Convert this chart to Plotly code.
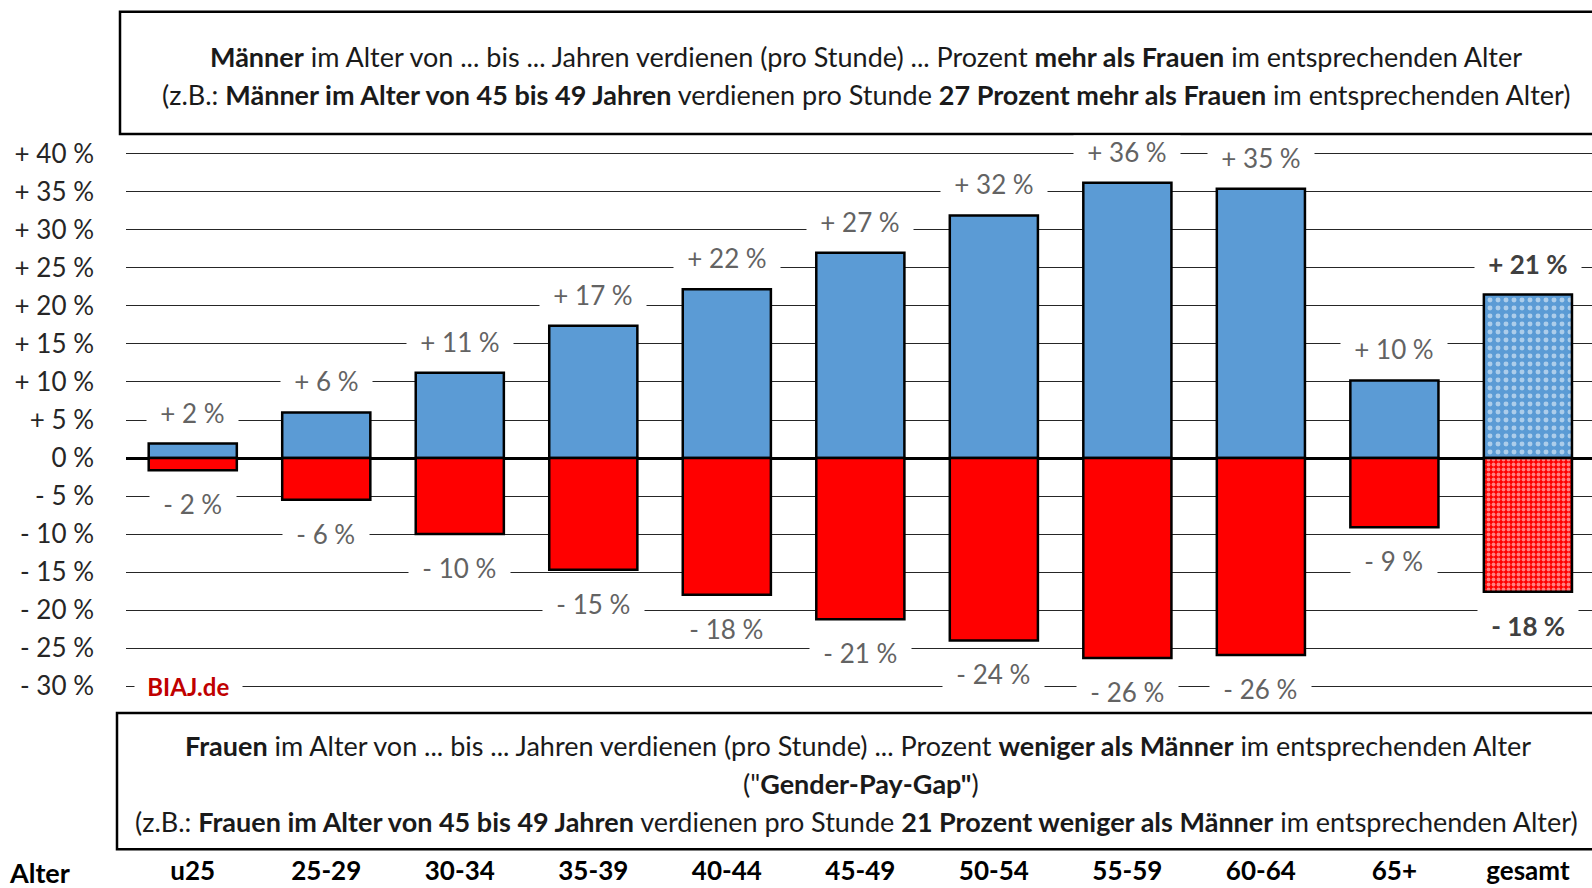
import plotly.graph_objects as go

categories = ["u25", "25-29", "30-34", "35-39", "40-44", "45-49", "50-54", "55-59", "60-64", "65+", "gesamt"]
men_more = [1.9, 6.0, 11.2, 17.4, 22.2, 27.0, 31.9, 36.2, 35.4, 10.2, 21.5]
women_less = [-1.6, -5.5, -10.0, -14.7, -18.0, -21.2, -24.0, -26.3, -25.9, -9.1, -17.6]
men_labels = ["+ 2 %", "+ 6 %", "+ 11 %", "+ 17 %", "+ 22 %", "+ 27 %", "+ 32 %", "+ 36 %", "+ 35 %", "+ 10 %", "+ 21 %"]
women_labels = ["- 2 %", "- 6 %", "- 10 %", "- 15 %", "- 18 %", "- 21 %", "- 24 %", "- 26 %", "- 26 %", "- 9 %", "- 18 %"]
y_ticks = [40, 35, 30, 25, 20, 15, 10, 5, 0, -5, -10, -15, -20, -25, -30]
y_ticktext = ["+ 40 %", "+ 35 %", "+ 30 %", "+ 25 %", "+ 20 %", "+ 15 %", "+ 10 %", "+ 5 %", "0 %",
              "- 5 %", "- 10 %", "- 15 %", "- 20 %", "- 25 %", "- 30 %"]

FONT = "Lato"
FS = 26
FS_BOX = 27
BLUE = "#5B9BD5"
RED = "#FF0000"

W, H = 1592, 888
L, R, T, B = 126, 0, 154, 202
PH = H - T - B
PW = W - L - R
YMIN, YMAX = -30.25, 40.25
# keep -30..40 at the intended pixel rows
unit = PH / (40 - (-30))
T2 = T - (YMAX - 40) * unit
B2 = B - (-30 - YMIN) * unit
PH2 = H - T2 - B2


def px(x):
    return (x - L) / PW


def py(y):
    return (H - B2 - y) / PH2


n = len(categories)
last = n - 1
blue_shapes = ["" if i < last else "." for i in range(n)]
red_shapes = ["" if i < last else "." for i in range(n)]

fig = go.Figure()
fig.add_trace(go.Bar(
    x=categories, y=men_more, name="Männer",
    marker=dict(color=BLUE, line=dict(color="black", width=2.5),
                pattern=dict(shape=blue_shapes, fgcolor="white", size=8, solidity=0.3, fillmode="overlay")),
    hoverinfo="skip",
))
fig.add_trace(go.Bar(
    x=categories, y=women_less, name="Frauen",
    marker=dict(color=RED, line=dict(color="black", width=2.5),
                pattern=dict(shape=red_shapes, fgcolor="white", size=5, solidity=0.45, fillmode="overlay")),
    hoverinfo="skip",
))

annotations = []
nb = "\u00a0\u00a0"
for i, c in enumerate(categories):
    bold = i == last
    col = "#404040" if bold else "#636363"
    for val, lab, shift in ((men_more[i], men_labels[i], 31), (women_less[i], women_labels[i], -34)):
        t = f"<b>{lab}</b>" if bold else lab
        annotations.append(dict(
            x=c, y=val, xref="x", yref="y", text=nb + t + nb, showarrow=False,
            xanchor="center", yanchor="middle", yshift=shift,
            font=dict(family=FONT, size=FS, color=col), bgcolor="white", borderpad=0,
        ))

text_col = "#1a1a1a"
top_lines = [
    ("<b>Männer</b> im Alter von ... bis ... Jahren verdienen (pro Stunde) ... Prozent <b>mehr als Frauen</b> im entsprechenden Alter", 866, 57),
    ("(z.B.: <b>Männer im Alter von 45 bis 49 Jahren</b> verdienen pro Stunde <b>27 Prozent mehr als Frauen</b> im entsprechenden Alter)", 866, 95),
]
bottom_lines = [
    ("<b>Frauen</b> im Alter von ... bis ... Jahren verdienen (pro Stunde) ... Prozent <b>weniger als Männer</b> im entsprechenden Alter", 858, 745),
    ("(\"<b>Gender-Pay-Gap\"</b>)", 861, 783),
    ("(z.B.: <b>Frauen im Alter von 45 bis 49 Jahren</b> verdienen pro Stunde <b>21 Prozent weniger als Männer</b> im entsprechenden Alter)", 856, 821),
]
for txt, x, y in top_lines + bottom_lines:
    annotations.append(dict(
        x=px(x), y=py(y), xref="paper", yref="paper", text=txt, showarrow=False,
        xanchor="center", yanchor="middle", font=dict(family=FONT, size=FS_BOX, color=text_col),
    ))

annotations.append(dict(
    x=px(39), y=py(872), xref="paper", yref="paper", text="<b>Alter</b>", showarrow=False,
    xanchor="center", yanchor="middle", font=dict(family=FONT, size=27, color="black"),
))
annotations.append(dict(
    x=px(134), y=-30, xref="paper", yref="y", text="\u00a0\u00a0<b>BIAJ.de</b>\u00a0\u00a0", showarrow=False,
    xanchor="left", yanchor="middle", font=dict(family=FONT, size=24, color="#C00000"),
    bgcolor="white", borderpad=0,
))

shapes = [
    dict(type="rect", xref="paper", yref="paper", x0=px(120), x1=px(1594), y0=py(134), y1=py(12),
         line=dict(color="black", width=2.5), fillcolor="rgba(0,0,0,0)", layer="above"),
    dict(type="rect", xref="paper", yref="paper", x0=px(117), x1=px(1594), y0=py(849), y1=py(713),
         line=dict(color="black", width=2.5), fillcolor="rgba(0,0,0,0)", layer="above"),
]

fig.update_layout(
    width=W, height=H,
    margin=dict(l=L, r=R, t=T2, b=B2, pad=0, autoexpand=False),
    paper_bgcolor="white", plot_bgcolor="white",
    barmode="relative", bargap=0.34,
    showlegend=False,
    annotations=annotations, shapes=shapes,
    font=dict(family=FONT, size=FS, color="#262626"),
)
fig.update_xaxes(
    type="category", range=[-0.5, n - 0.5 - 0.02], showgrid=False, showline=False, zeroline=False,
    automargin=False,
    ticks="", ticklabelstandoff=int(round(167 - (-30 - YMIN) * unit)), tickfont=dict(family=FONT, size=26, color="black"),
    tickprefix="<b>", ticksuffix="</b>",
)
fig.update_yaxes(
    range=[YMIN, YMAX], tickvals=y_ticks, ticktext=y_ticktext, showgrid=True, gridcolor="#262626", gridwidth=1,
    automargin=False,
    zeroline=True, zerolinecolor="black", zerolinewidth=3, showline=False, ticks="",
    ticklabelstandoff=31, tickfont=dict(family=FONT, size=FS, color="#262626"),
)

fig.write_html("out.html", config={"displayModeBar": False},
               post_script="document.body.style.margin='0px';")
